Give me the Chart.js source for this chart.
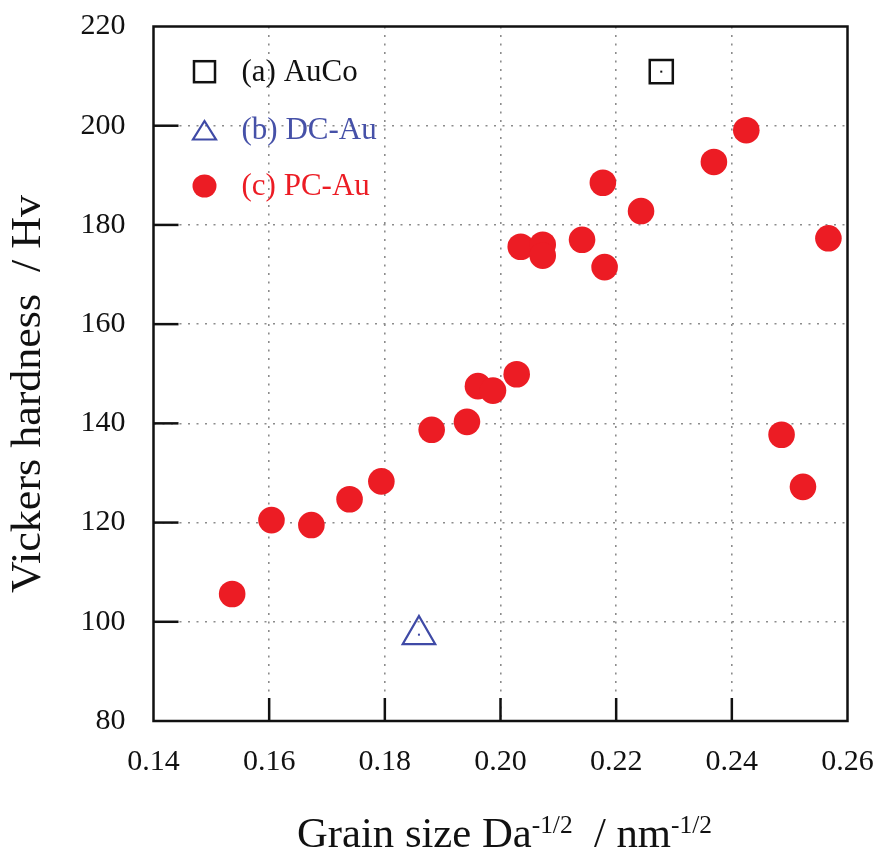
<!DOCTYPE html>
<html>
<head>
<meta charset="utf-8">
<script src="https://cdn.jsdelivr.net/npm/chart.js@4.4.1/dist/chart.umd.min.js"></script>
<style>
  html, body { margin: 0; padding: 0; background: #fff; }
  canvas { display: block; }
</style>
</head>
<body>
<canvas id="hardnessChart" width="878" height="853"></canvas>
<script>
// Vickers hardness against inverse square root of grain size
const seriesLabels = ["(a) AuCo", "(b) DC-Au", "(c) PC-Au"];
const seriesColors = ["#111111", "#3f4aa6", "#ec1c24"];

const auCoX = [0.2278];
const auCoY = [210.9];

const dcAuX = [0.1859];
const dcAuY = [97.4];

const pcAuX = [0.1536, 0.1604, 0.1673, 0.1739, 0.1794, 0.1881, 0.1942, 0.1961,
  0.1987, 0.2028, 0.2035, 0.2073, 0.2073, 0.2141, 0.2177, 0.2180, 0.2243,
  0.2369, 0.2425, 0.2486, 0.2523, 0.2567];
const pcAuY = [105.6, 120.5, 119.5, 124.7, 128.3, 138.7, 140.3, 147.5,
  146.6, 149.9, 175.6, 176.0, 173.8, 177.0, 188.5, 171.5, 182.8,
  192.7, 199.1, 137.7, 127.2, 177.3];

const xTitle = ["Grain size Da", "-1/2", "  / nm", "-1/2"];
const yTitle = "Vickers hardness  / Hv";

const FONT = '"Liberation Serif", "Times New Roman", serif';

function toPoints(xs, ys) {
  return xs.map((x, i) => ({ x: x, y: ys[i] }));
}

function innerGrid(ctx) {
  const n = ctx.scale.ticks.length;
  return ctx.index === 0 || ctx.index === n - 1 ? "rgba(0,0,0,0)" : "#8c8c8c";
}

// small dot in the middle of the hollow markers
const centerDots = {
  id: "centerDots",
  afterDatasetsDraw(chart) {
    const ctx = chart.ctx;
    [0, 1].forEach(function (i) {
      ctx.save();
      ctx.fillStyle = seriesColors[i];
      chart.getDatasetMeta(i).data.forEach(function (pt) {
        ctx.fillRect(pt.x - 1, pt.y - 1, 2, 2);
      });
      ctx.restore();
    });
  }
};

// plot frame plus inward tick marks
const frame = {
  id: "frame",
  afterDraw(chart) {
    const ctx = chart.ctx;
    const a = chart.chartArea;
    ctx.save();
    ctx.strokeStyle = "#111";
    ctx.lineWidth = 2.5;
    ctx.strokeRect(a.left, a.top, a.right - a.left, a.bottom - a.top);

    const ys = chart.scales.y;
    ys.ticks.forEach(function (t, i) {
      if (i === 0 || i === ys.ticks.length - 1) return;
      const py = ys.getPixelForValue(t.value);
      ctx.beginPath();
      ctx.moveTo(a.left, py);
      ctx.lineTo(a.left + 25, py);
      ctx.stroke();
    });

    const xs = chart.scales.x;
    xs.ticks.forEach(function (t, i) {
      if (i === 0 || i === xs.ticks.length - 1) return;
      const px = xs.getPixelForValue(t.value);
      ctx.beginPath();
      ctx.moveTo(px, a.bottom);
      ctx.lineTo(px, a.bottom - 23);
      ctx.stroke();
    });
    ctx.restore();
  }
};

// legend in the upper left corner of the plot
const cornerLegend = {
  id: "cornerLegend",
  afterDraw(chart) {
    const ctx = chart.ctx;
    const mx = 204.5, tx = 241.5;
    const rows = [71.7, 130, 186];
    ctx.save();

    // square
    ctx.strokeStyle = seriesColors[0];
    ctx.lineWidth = 2.5;
    ctx.strokeRect(mx - 10.5, rows[0] - 10.5, 21, 21);

    // triangle
    ctx.strokeStyle = seriesColors[1];
    ctx.lineWidth = 2.2;
    ctx.beginPath();
    ctx.moveTo(mx, rows[1] - 9);
    ctx.lineTo(mx + 11.5, rows[1] + 9.5);
    ctx.lineTo(mx - 11.5, rows[1] + 9.5);
    ctx.closePath();
    ctx.stroke();

    // filled circle
    ctx.fillStyle = seriesColors[2];
    ctx.beginPath();
    ctx.ellipse(mx, rows[2], 12, 11.5, 0, 0, Math.PI * 2);
    ctx.fill();

    ctx.font = "31px " + FONT;
    ctx.textBaseline = "middle";
    ctx.textAlign = "left";
    seriesLabels.forEach(function (label, i) {
      ctx.fillStyle = i === 1 ? "#4651a8" : seriesColors[i];
      ctx.fillText(label, tx, rows[i] + 1);
    });
    ctx.restore();
  }
};

// axis titles, the x title carries superscripts
const axisTitles = {
  id: "axisTitles",
  afterDraw(chart) {
    const ctx = chart.ctx;
    ctx.save();
    ctx.fillStyle = "#111";
    ctx.textBaseline = "alphabetic";
    ctx.textAlign = "left";

    const big = "42px " + FONT;
    const small = "25px " + FONT;
    const parts = xTitle.map(function (s, i) {
      ctx.font = i % 2 ? small : big;
      return { text: s, sup: i % 2 === 1, w: ctx.measureText(s).width };
    });
    const total = parts.reduce((s, p) => s + p.w, 0);
    const left = 297, right = 712, base = 846.5;
    const sx = (right - left) / total;
    ctx.translate(left, base);
    ctx.scale(sx, 1);
    let x = 0;
    parts.forEach(function (p) {
      ctx.font = p.sup ? small : big;
      ctx.fillText(p.text, x, p.sup ? -14 : 0);
      x += p.w;
    });
    ctx.restore();

    ctx.save();
    ctx.fillStyle = "#111";
    ctx.font = big;
    ctx.textBaseline = "middle";
    ctx.textAlign = "center";
    const w = ctx.measureText(yTitle).width;
    ctx.translate(29, 394);
    ctx.rotate(-Math.PI / 2);
    ctx.scale(398 / w, 1);
    ctx.fillText(yTitle, 0, 0);
    ctx.restore();
  }
};

const ctx = document.getElementById("hardnessChart").getContext("2d");
const chart = new Chart(ctx, {
  type: "scatter",
  data: {
    datasets: [
      {
        label: seriesLabels[0],
        data: toPoints(auCoX, auCoY),
        pointStyle: "rect",
        pointRadius: 16.3,
        borderWidth: 2.5,
        borderColor: seriesColors[0],
        backgroundColor: "rgba(0,0,0,0)"
      },
      {
        label: seriesLabels[1],
        data: toPoints(dcAuX, dcAuY),
        pointStyle: "triangle",
        pointRadius: 18.7,
        borderWidth: 2.3,
        borderColor: seriesColors[1],
        backgroundColor: "rgba(0,0,0,0)"
      },
      {
        label: seriesLabels[2],
        data: toPoints(pcAuX, pcAuY),
        pointStyle: "circle",
        pointRadius: 13.3,
        borderWidth: 0,
        borderColor: seriesColors[2],
        backgroundColor: seriesColors[2]
      }
    ]
  },
  options: {
    responsive: false,
    devicePixelRatio: 1,
    animation: false,
    clip: false,
    layout: { padding: { top: 26.5, right: 30.5, left: 0, bottom: 0 } },
    plugins: {
      legend: { display: false },
      tooltip: { enabled: false }
    },
    scales: {
      x: {
        type: "linear",
        min: 0.14,
        max: 0.26,
        // fixed axis height; label overflow is handled by the layout padding
        afterFit: function (s) {
          s.height = 132;
          s.paddingLeft = 0;
          s.paddingRight = 0;
        },
        ticks: {
          stepSize: 0.02,
          padding: 23,
          maxRotation: 0,
          color: "#111",
          font: { family: FONT, size: 30 },
          callback: function (v) { return v.toFixed(2); }
        },
        grid: { drawTicks: false, lineWidth: 1.6, color: innerGrid },
        border: { display: false, dash: [2, 6.5] }
      },
      y: {
        type: "linear",
        min: 80,
        max: 220,
        afterFit: function (s) {
          s.width = 153.5;
          s.paddingTop = 0;
          s.paddingBottom = 0;
        },
        ticks: {
          stepSize: 20,
          padding: 28,
          color: "#111",
          font: { family: FONT, size: 30 }
        },
        grid: { drawTicks: false, lineWidth: 1.6, color: innerGrid },
        border: { display: false, dash: [2, 6.5] }
      }
    }
  },
  plugins: [centerDots, frame, cornerLegend, axisTitles]
});
</script>
</body>
</html>
